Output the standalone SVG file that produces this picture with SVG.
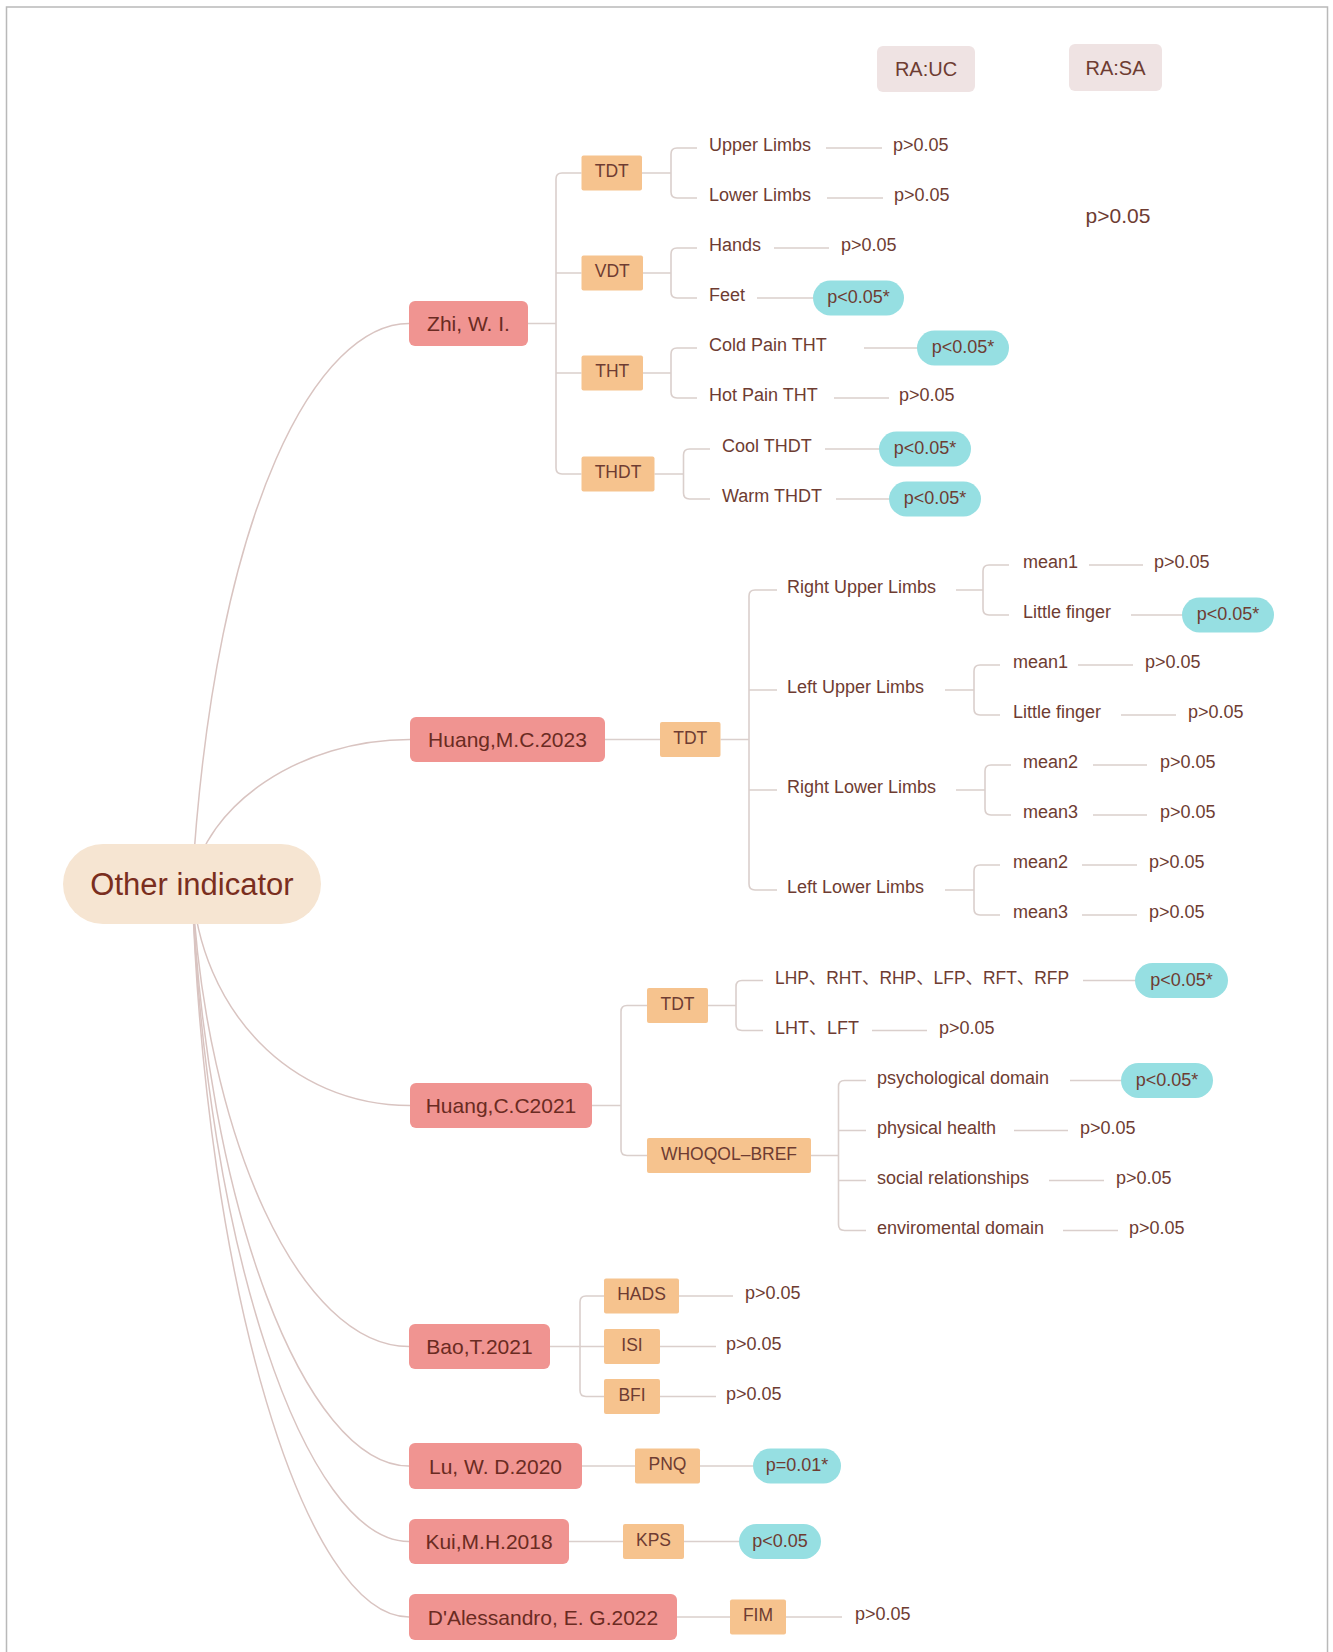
<svg xmlns="http://www.w3.org/2000/svg" width="1333" height="1652" viewBox="0 0 1333 1652">
<style>
.ln{fill:none;stroke:#dacfcc;stroke-width:1.6}
.cv{fill:none;stroke:#d9c4c1;stroke-width:1.5}
.red{fill:#f09491}
.org{fill:#f6c38e}
.cy{fill:#96dfe2}
.hd{fill:#efe3e3}
text{font-family:"Liberation Sans","Noto Sans CJK SC",Arial,sans-serif;fill:#6e3c32}
.lf{font-size:18px}
.nd{font-size:21px;fill:#6a2b22;text-anchor:middle}
.ob{font-size:17.5px;text-anchor:middle}
.pv{font-size:18px;text-anchor:middle}
</style>
<rect x="0" y="0" width="1333" height="1652" fill="#ffffff"/>
<rect x="6.5" y="7" width="1321" height="1700" fill="none" stroke="#b9b9b9" stroke-width="1.5"/>

<g id="connectors">
  <path class="cv" d="M192 884 C215 500 320 323.5 409 323.5"/>
  <path class="cv" d="M192 884 C205 805 300 739.5 410 739.5"/>
  <path class="cv" d="M192 884 C200 1010 290 1105.5 410 1105.5"/>
  <path class="cv" d="M192 884 C205 1138 300 1346.5 409 1346.5"/>
  <path class="cv" d="M192 884 C205 1205 305 1466 409 1466"/>
  <path class="cv" d="M192 884 C205 1245 305 1541.5 409 1541.5"/>
  <path class="cv" d="M192 884 C205 1287 305 1617 409 1617"/>
  <!-- Zhi -->
  <path class="ln" d="M528 323.5 H556 M581.5 173 H562 Q556 173 556 179 V468 Q556 474 562 474 H581.5 M556 273 H581.5 M556 373 H581.5"/>
  <path class="ln" d="M642 173 H671 M697 148 H677 Q671 148 671 154 V192 Q671 198 677 198 H697"/>
  <path class="ln" d="M643 273 H671 M697 248 H677 Q671 248 671 254 V292 Q671 298 677 298 H697"/>
  <path class="ln" d="M643 373 H671 M697 348 H677 Q671 348 671 354 V392 Q671 398 677 398 H697"/>
  <path class="ln" d="M654.5 474 H683.5 M710 449 H689.5 Q683.5 449 683.5 455 V493 Q683.5 499 689.5 499 H710"/>
  <path class="ln" d="M826 148 H882 M827 198 H883 M774 248 H829 M757 298 H813 M864 348 H918 M834 398 H889 M825 449 H880 M836 499 H890"/>
  <!-- Huang M.C. -->
  <path class="ln" d="M605 739.5 H660 M720.5 739.5 H749 M777 590 H755 Q749 590 749 596 V884 Q749 890 755 890 H777 M749 690 H777 M749 790 H777"/>
  <path class="ln" d="M956 590 H983 M1009 565 H989 Q983 565 983 571 V609 Q983 615 989 615 H1009"/>
  <path class="ln" d="M945 690 H974 M1000 665 H980 Q974 665 974 671 V709 Q974 715 980 715 H1000"/>
  <path class="ln" d="M956 790 H985 M1011 765 H991 Q985 765 985 771 V809 Q985 815 991 815 H1011"/>
  <path class="ln" d="M945 890 H974 M1000 865 H980 Q974 865 974 871 V909 Q974 915 980 915 H1000"/>
  <path class="ln" d="M1089 565 H1143 M1131 615 H1183 M1078 665 H1133 M1121 715 H1176 M1093 765 H1147 M1093 815 H1147 M1082 865 H1137 M1082 915 H1137"/>
  <!-- Huang C.C -->
  <path class="ln" d="M592 1105.5 H621 M647 1005.5 H627 Q621 1005.5 621 1011.5 V1149.5 Q621 1155.5 627 1155.5 H647"/>
  <path class="ln" d="M708 1005.5 H736 M763 980.5 H742 Q736 980.5 736 986.5 V1024.5 Q736 1030.5 742 1030.5 H763"/>
  <path class="ln" d="M811 1155.5 H838.5 M866 1080.5 H844.5 Q838.5 1080.5 838.5 1086.5 V1224.5 Q838.5 1230.5 844.5 1230.5 H866 M838.5 1130.5 H866 M838.5 1180.5 H866"/>
  <path class="ln" d="M1083 980.5 H1137 M872 1030.5 H927 M1070 1080.5 H1122 M1014 1130.5 H1068 M1049 1180.5 H1104 M1063 1230.5 H1118"/>
  <!-- Bao -->
  <path class="ln" d="M550 1346.5 H604 M604 1296 H586 Q580 1296 580 1302 V1390.5 Q580 1396.5 586 1396.5 H604"/>
  <path class="ln" d="M679 1296 H733 M660 1346.5 H716 M660 1396.5 H716"/>
  <!-- Lu, Kui, D'Alessandro -->
  <path class="ln" d="M582 1466 H635 M700 1466 H753"/>
  <path class="ln" d="M569 1541.5 H623 M684 1541.5 H739"/>
  <path class="ln" d="M677 1617 H730 M786 1617 H842"/>
</g>

<g id="header">
  <g id="ra-uc"><rect class="hd" x="877" y="46" width="98" height="46" rx="6"/><text class="nd" style="font-size:20px;fill:#6e3c32" x="926" y="76">RA:UC</text></g>
  <g id="ra-sa"><rect class="hd" x="1069" y="44" width="93" height="47" rx="6"/><text class="nd" style="font-size:20px;fill:#6e3c32" x="1115.5" y="74.5">RA:SA</text></g>
  <text class="nd" style="font-size:21px;fill:#6e3c32" x="1118" y="223">p&gt;0.05</text>
</g>

<g id="root"><rect x="63" y="844" width="258" height="80" rx="40" fill="#f6e5d2"/><text x="192" y="895" text-anchor="middle" style="font-size:31px;fill:#7a2e1e">Other indicator</text></g>

<g id="zhi">
  <rect class="red" x="409" y="301" width="119" height="45" rx="6"/><text class="nd" x="468.5" y="331">Zhi, W. I.</text>
  <g id="zhi-tdt"><rect class="org" x="581.5" y="155.5" width="60.5" height="35" rx="2"/><text class="ob" x="611.75" y="177">TDT</text></g>
  <g id="zhi-vdt"><rect class="org" x="581.5" y="255.5" width="61.5" height="35" rx="2"/><text class="ob" x="612.25" y="277">VDT</text></g>
  <g id="zhi-tht"><rect class="org" x="581.5" y="355.5" width="61.5" height="35" rx="2"/><text class="ob" x="612.25" y="377">THT</text></g>
  <g id="zhi-thdt"><rect class="org" x="581.5" y="456.5" width="73" height="35" rx="2"/><text class="ob" x="618" y="478">THDT</text></g>
  <text class="lf" x="709" y="151">Upper Limbs</text><text class="lf" x="893" y="151">p&gt;0.05</text>
  <text class="lf" x="709" y="201">Lower Limbs</text><text class="lf" x="894" y="201">p&gt;0.05</text>
  <text class="lf" x="709" y="251">Hands</text><text class="lf" x="841" y="251">p&gt;0.05</text>
  <text class="lf" x="709" y="301">Feet</text>
  <g><rect class="cy" x="813" y="280.5" width="91" height="35" rx="17.5"/><text class="pv" x="858.5" y="303">p&lt;0.05*</text></g>
  <text class="lf" x="709" y="351">Cold Pain THT</text>
  <g><rect class="cy" x="917" y="330.5" width="92" height="35" rx="17.5"/><text class="pv" x="963" y="353">p&lt;0.05*</text></g>
  <text class="lf" x="709" y="401">Hot Pain THT</text><text class="lf" x="899" y="401">p&gt;0.05</text>
  <text class="lf" x="722" y="452">Cool THDT</text>
  <g><rect class="cy" x="879" y="431.5" width="92" height="35" rx="17.5"/><text class="pv" x="925" y="454">p&lt;0.05*</text></g>
  <text class="lf" x="722" y="502">Warm THDT</text>
  <g><rect class="cy" x="889" y="481.5" width="92" height="35" rx="17.5"/><text class="pv" x="935" y="504">p&lt;0.05*</text></g>
</g>

<g id="huang-mc">
  <rect class="red" x="410" y="717" width="195" height="45" rx="6"/><text class="nd" x="507.5" y="747">Huang,M.C.2023</text>
  <g id="mc-tdt"><rect class="org" x="660" y="722" width="60.5" height="35" rx="2"/><text class="ob" x="690.25" y="743.5">TDT</text></g>
  <text class="lf" x="787" y="593">Right Upper Limbs</text>
  <text class="lf" x="787" y="693">Left Upper Limbs</text>
  <text class="lf" x="787" y="793">Right Lower Limbs</text>
  <text class="lf" x="787" y="893">Left Lower Limbs</text>
  <text class="lf" x="1023" y="568">mean1</text><text class="lf" x="1154" y="568">p&gt;0.05</text>
  <text class="lf" x="1023" y="618">Little finger</text>
  <g><rect class="cy" x="1182" y="597.5" width="92" height="35" rx="17.5"/><text class="pv" x="1228" y="620">p&lt;0.05*</text></g>
  <text class="lf" x="1013" y="668">mean1</text><text class="lf" x="1145" y="668">p&gt;0.05</text>
  <text class="lf" x="1013" y="718">Little finger</text><text class="lf" x="1188" y="718">p&gt;0.05</text>
  <text class="lf" x="1023" y="768">mean2</text><text class="lf" x="1160" y="768">p&gt;0.05</text>
  <text class="lf" x="1023" y="818">mean3</text><text class="lf" x="1160" y="818">p&gt;0.05</text>
  <text class="lf" x="1013" y="868">mean2</text><text class="lf" x="1149" y="868">p&gt;0.05</text>
  <text class="lf" x="1013" y="918">mean3</text><text class="lf" x="1149" y="918">p&gt;0.05</text>
</g>

<g id="huang-cc">
  <rect class="red" x="410" y="1083" width="182" height="45" rx="6"/><text class="nd" x="501" y="1113">Huang,C.C2021</text>
  <g id="cc-tdt"><rect class="org" x="647" y="988" width="61" height="35" rx="2"/><text class="ob" x="677.5" y="1009.5">TDT</text></g>
  <g id="cc-whoqol"><rect class="org" x="647" y="1138" width="164" height="35" rx="2"/><text class="ob" x="729" y="1159.5">WHOQOL–BREF</text></g>
  <text class="lf" x="775" y="983.5" textLength="294" lengthAdjust="spacingAndGlyphs">LHP、RHT、RHP、LFP、RFT、RFP</text>
  <g><rect class="cy" x="1135" y="963" width="93" height="35" rx="17.5"/><text class="pv" x="1181.5" y="985.5">p&lt;0.05*</text></g>
  <text class="lf" x="775" y="1033.5">LHT、LFT</text><text class="lf" x="939" y="1033.5">p&gt;0.05</text>
  <text class="lf" x="877" y="1083.5">psychological domain</text>
  <g><rect class="cy" x="1121" y="1063" width="92" height="35" rx="17.5"/><text class="pv" x="1167" y="1085.5">p&lt;0.05*</text></g>
  <text class="lf" x="877" y="1133.5">physical health</text><text class="lf" x="1080" y="1133.5">p&gt;0.05</text>
  <text class="lf" x="877" y="1183.5">social relationships</text><text class="lf" x="1116" y="1183.5">p&gt;0.05</text>
  <text class="lf" x="877" y="1233.5">enviromental domain</text><text class="lf" x="1129" y="1233.5">p&gt;0.05</text>
</g>

<g id="bao">
  <rect class="red" x="409" y="1324" width="141" height="45" rx="6"/><text class="nd" x="479.5" y="1354">Bao,T.2021</text>
  <g id="bao-hads"><rect class="org" x="604" y="1278.5" width="75" height="35" rx="2"/><text class="ob" x="641.5" y="1300">HADS</text></g>
  <g id="bao-isi"><rect class="org" x="604" y="1329" width="56" height="35" rx="2"/><text class="ob" x="632" y="1350.5">ISI</text></g>
  <g id="bao-bfi"><rect class="org" x="604" y="1379" width="56" height="35" rx="2"/><text class="ob" x="632" y="1400.5">BFI</text></g>
  <text class="lf" x="745" y="1299">p&gt;0.05</text>
  <text class="lf" x="726" y="1349.5">p&gt;0.05</text>
  <text class="lf" x="726" y="1399.5">p&gt;0.05</text>
</g>

<g id="lu">
  <rect class="red" x="409" y="1443" width="173" height="46" rx="6"/><text class="nd" x="495.5" y="1473.5">Lu, W. D.2020</text>
  <g id="lu-pnq"><rect class="org" x="635" y="1448.5" width="65" height="35" rx="2"/><text class="ob" x="667.5" y="1470">PNQ</text></g>
  <g><rect class="cy" x="753" y="1448.5" width="88" height="35" rx="17.5"/><text class="pv" x="797" y="1471">p=0.01*</text></g>
</g>

<g id="kui">
  <rect class="red" x="409" y="1519" width="160" height="45" rx="6"/><text class="nd" x="489" y="1549">Kui,M.H.2018</text>
  <g id="kui-kps"><rect class="org" x="623" y="1524" width="61" height="35" rx="2"/><text class="ob" x="653.5" y="1545.5">KPS</text></g>
  <g><rect class="cy" x="739" y="1524" width="82" height="35" rx="17.5"/><text class="pv" x="780" y="1546.5">p&lt;0.05</text></g>
</g>

<g id="dalessandro">
  <rect class="red" x="409" y="1594" width="268" height="46" rx="6"/><text class="nd" x="543" y="1624.5">D'Alessandro, E. G.2022</text>
  <g id="dal-fim"><rect class="org" x="730" y="1599.5" width="56" height="35" rx="2"/><text class="ob" x="758" y="1621">FIM</text></g>
  <text class="lf" x="855" y="1620">p&gt;0.05</text>
</g>
</svg>
